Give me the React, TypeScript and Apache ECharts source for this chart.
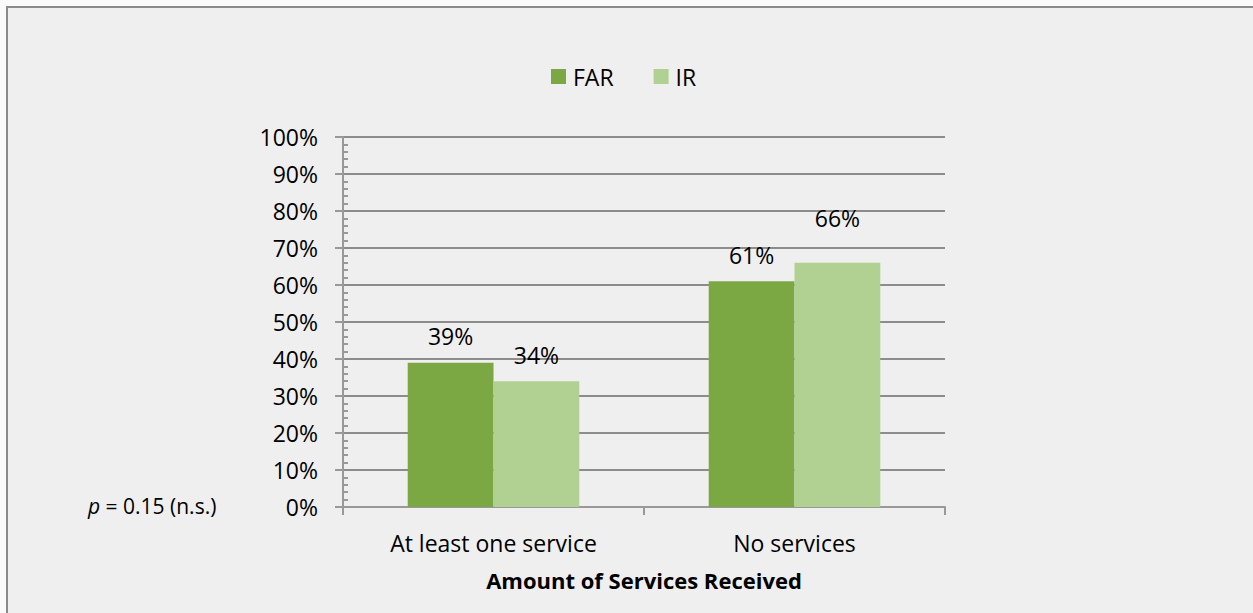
import React, { useEffect, useRef } from "react";
import * as echarts from "echarts";

const categories = ["At least one service", "No services"];
const farValues = [39, 61];
const irValues = [34, 66];
const seriesNames = ["FAR", "IR"];
const xTitle = "Amount of Services Received";
const note = "0.15 (n.s.)";

const FONT = "Open Sans";
const FS = 23;

export default function App() {
  const ref = useRef<HTMLDivElement>(null);
  useEffect(() => {
    const chart = echarts.init(ref.current!, null, { renderer: "svg" });
    const labelOpt = {
      show: true,
      position: "top" as const,
      distance: 15,
      formatter: "{c}%",
      color: "#000",
      fontSize: FS,
      fontFamily: FONT,
    };
    // The 66% label sits higher in the original
    const irData = irValues.map((v, i) =>
      i === 1 ? { value: v, label: { offset: [0, -18] } } : v
    );
    chart.setOption({
      animation: false,
      backgroundColor: "#fafafa",
      textStyle: { fontFamily: FONT },
      graphic: [
        {
          type: "rect",
          z: -10,
          silent: true,
          shape: { x: 7, y: 7, width: 1400, height: 800 },
          style: { fill: "#efefef", stroke: "#8a8a8a", lineWidth: 2 },
        },
        {
          type: "text",
          left: 88,
          top: 495,
          style: {
            text: "{i|p} = " + note,
            rich: {
              i: { fontStyle: "italic", fontSize: 21, fontFamily: FONT, fill: "#000" },
            },
            fontSize: 21,
            fontFamily: FONT,
            fill: "#000",
          },
        },
      ],
      legend: {
        top: 60,
        left: 546,
        itemWidth: 15,
        itemHeight: 15,
        itemGap: 40,
        icon: "rect",
        textStyle: { fontSize: FS, fontFamily: FONT, color: "#000", padding: [0, 0, 0, 2] },
        data: seriesNames,
      },
      grid: { left: 343, top: 137, right: 308, bottom: 106 },
      xAxis: {
        type: "category",
        data: categories,
        name: xTitle,
        nameLocation: "middle",
        nameGap: 62,
        nameTextStyle: { fontSize: FS - 1, fontWeight: "bold", fontFamily: FONT, color: "#000" },
        axisLine: { lineStyle: { color: "#999", width: 2 } },
        axisTick: { show: true, alignWithLabel: false, length: 8, lineStyle: { color: "#999", width: 2 } },
        axisLabel: { fontSize: FS, fontFamily: FONT, color: "#000", margin: 24 },
      },
      yAxis: {
        type: "value",
        min: 0,
        max: 100,
        interval: 10,
        axisLine: { show: true, lineStyle: { color: "#999", width: 2 } },
        axisTick: { show: true, length: 8, lineStyle: { color: "#999", width: 2 } },
        minorTick: { show: true, splitNumber: 5, length: -5, lineStyle: { color: "#999", width: 2 } },
        axisLabel: { fontSize: FS, fontFamily: FONT, color: "#000", margin: 25, formatter: "{value}%" },
        splitLine: { show: true, lineStyle: { color: "#8c8c8c", width: 2 } },
      },
      series: [
        {
          name: seriesNames[0],
          type: "bar",
          data: farValues,
          barGap: "0%",
          barCategoryGap: "43%",
          itemStyle: { color: "#7ba843" },
          label: labelOpt,
        },
        {
          name: seriesNames[1],
          type: "bar",
          data: irData,
          barGap: "0%",
          barCategoryGap: "43%",
          itemStyle: { color: "#b1d193" },
          label: labelOpt,
        },
      ],
    });
    return () => chart.dispose();
  }, []);
  return (
    <div
      ref={ref}
      style={{ position: "absolute", left: 0, top: 0, width: 1253, height: 613 }}
    />
  );
}
